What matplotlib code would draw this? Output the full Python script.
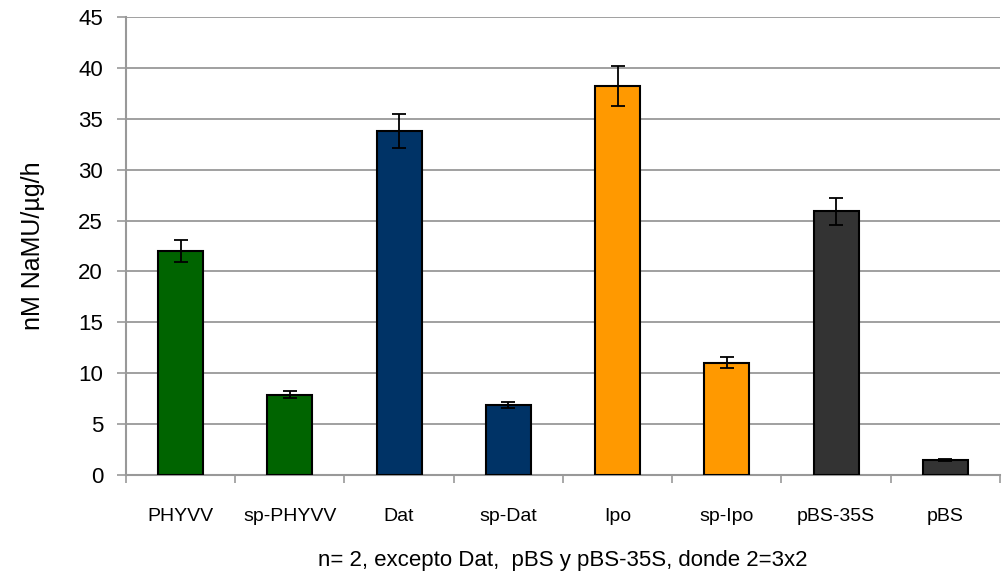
import matplotlib.pyplot as plt
import numpy as np

# data
categories = ["PHYVV", "sp-PHYVV", "Dat", "sp-Dat", "Ipo", "sp-Ipo", "pBS-35S", "pBS"]
values = [22.0, 7.9, 33.8, 6.9, 38.2, 11.05, 25.9, 1.5]
errors = [1.1, 0.38, 1.7, 0.3, 1.95, 0.55, 1.3, 0.12]
bar_colors = ['#006400', '#006400', '#003366', '#003366',
              '#FF9900', '#FF9900', '#333333', '#333333']

plt.rcParams['font.family'] = ['Liberation Sans', 'DejaVu Sans']

fig = plt.figure(figsize=(10.04, 5.82), dpi=100)
ax = fig.add_axes([0.1255, 0.1838, 0.8705, 0.787])

x_loc = np.arange(len(categories))
ax.bar(x_loc, values, 0.41, color=bar_colors, edgecolor='black', linewidth=1.5,
       yerr=errors, error_kw=dict(ecolor='black', elinewidth=1.3, capsize=5, capthick=1.3),
       zorder=3)

ax.set_xlim(-0.5, len(categories) - 0.5)
ax.set_ylim(0, 45)
ax.set_yticks(range(0, 50, 5))
ax.tick_params(axis='y', labelsize=16, length=6.5, width=1.2, color='#999999', pad=10)
ax.yaxis.grid(True, color='#999999', linewidth=1.3, zorder=0)

# ticks at category boundaries, labels centred
ax.set_xticks(np.arange(-0.5, len(categories), 1))
ax.set_xticklabels([])
ax.set_xticks(x_loc, minor=True)
ax.set_xticklabels(categories, minor=True, fontsize=14)
ax.tick_params(axis='x', which='major', length=6, width=1.2, color='#999999')
ax.tick_params(axis='x', which='minor', length=0, pad=24)

for side in ['top', 'right']:
    ax.spines[side].set_visible(False)
for side in ['left', 'bottom']:
    ax.spines[side].set_color('#999999')
    ax.spines[side].set_linewidth(1.5)

ax.set_ylabel("nM NaMU/\u00b5g/h", fontsize=18, labelpad=24)
ax.set_xlabel("n= 2, excepto Dat,  pBS y pBS-35S, donde 2=3x2", fontsize=16, labelpad=18)

plt.savefig("out.png", dpi=100)
